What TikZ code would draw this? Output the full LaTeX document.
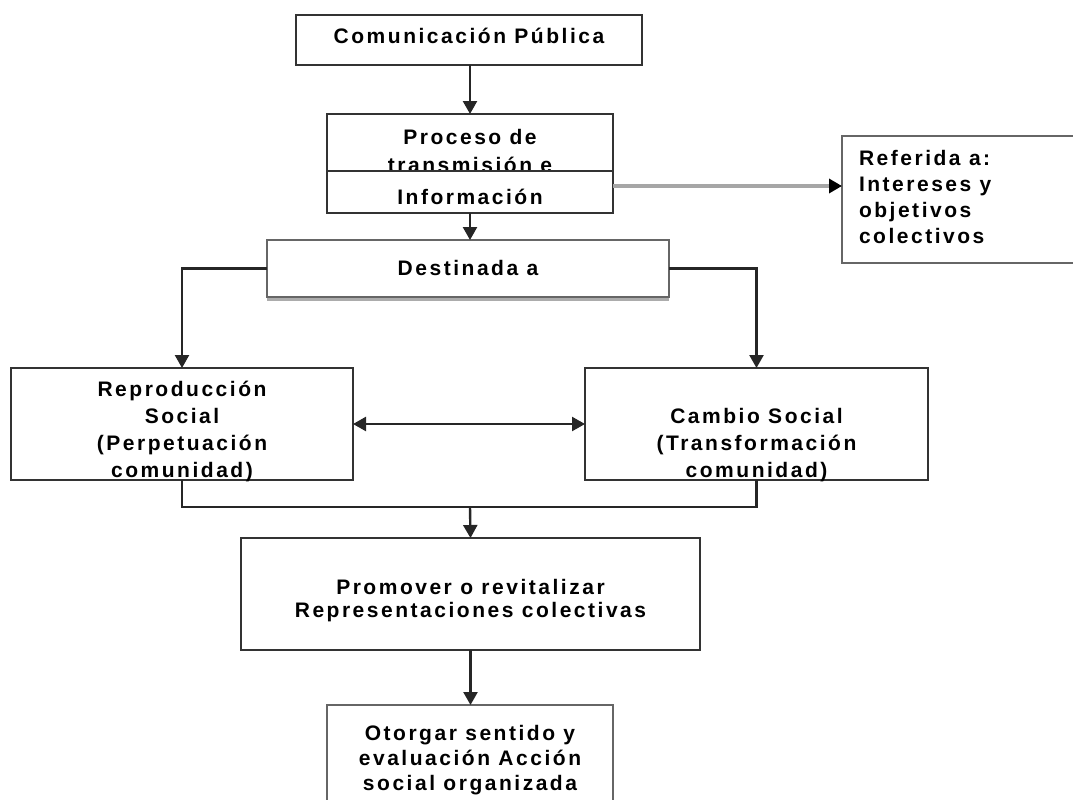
\documentclass[tikz,border=0pt]{standalone}
\usepackage{fontspec}
\usetikzlibrary{arrows.meta}
\newfontfamily\diagfont[LetterSpace=12]{Liberation Sans}
\begin{document}
\begin{tikzpicture}[x=1pt,y=-1pt,
  every node/.style={inner sep=0pt, outer sep=0pt},
  txt/.style={font=\diagfont\bfseries\fontsize{21}{27}\selectfont, text=black, align=center},
  box/.style={draw=black!80, line width=2.2pt, fill=white},
  conn/.style={draw=black!85, line width=2.4pt},
  tip/.style={-{Triangle[width=14pt,length=13pt]}},
  arr/.style={conn, tip},
]
\useasboundingbox (0,0) rectangle (1073,800);
\clip (0,0) rectangle (1073,800);

% boxes and texts
\node[box, minimum width=346pt, minimum height=50pt] (com) at (469,40) {};
\node[txt, anchor=base] (tcom) at (469,44) {Comunicación Pública};

\node[box, minimum width=286pt, minimum height=99pt] (proc) at (470,163.5) {};
\node[txt, anchor=base] (tp) at (470,144) {Proceso de};
\node[txt, anchor=base] (tt) at (470,172) {transmisión e};
\node[box, minimum width=286pt, minimum height=42pt] (info) at (470,192) {};
\node[txt, anchor=base] (tinfo) at (470,204) {Información};

\node[box, draw=black!60, minimum width=248pt, minimum height=127pt] (ref) at (966,199.5) {};
\node[txt, align=left, anchor=base west] (tref) at (859,243) {Referida a:\\[-1pt]Intereses y\\[-1pt]objetivos\\[-1pt]colectivos};

\node[box, draw=black!60, minimum width=402pt, minimum height=57pt] (dest) at (468,268.5) {};
\draw[gray!65, line width=3pt] ([yshift=-2pt]dest.south west) -- ([yshift=-2pt]dest.south east);
\node[txt, anchor=base] (tdest) at (468,275) {Destinada a};

\node[box, minimum width=342pt, minimum height=112pt] (rep) at (182,424) {};
\node[txt, anchor=base] (trep) at (182,477) {Reproducción\\Social\\(Perpetuación\\comunidad)};

\node[box, minimum width=343pt, minimum height=112pt] (cam) at (756.5,424) {};
\node[txt, anchor=base] (tcam) at (756.5,477) {Cambio Social\\(Transformación\\comunidad)};

\node[box, minimum width=459pt, minimum height=112pt] (prom) at (470.5,594) {};
\node[txt, anchor=base] (tprom) at (470.5,617) {Promover o revitalizar\\[-4pt]Representaciones colectivas};

\node[box, draw=black!60, minimum width=286pt, minimum height=125pt] (oto) at (470,767.5) {};
\node[txt, anchor=base] (toto) at (470,790) {Otorgar sentido y\\[-2pt]evaluación Acción\\[-2pt]social organizada};

% connectors
\draw[arr] (proc.north |- com.south) -- (proc.north);
\draw[draw=gray!70, line width=3.5pt, -{Triangle[width=14pt,length=13pt,color=black]}]
  ([yshift=6pt]info.east) -- ([yshift=6pt]info.east -| ref.west);
\draw[arr] (proc.south) -- (proc.south |- dest.north);
\draw[arr] (dest.west) -| (rep.north);
\draw[arr] (dest.east) -| (cam.north);
\draw[conn, {Triangle[width=14pt,length=13pt]}-{Triangle[width=14pt,length=13pt]}] (rep.east) -- (cam.west);
\coordinate (join) at (470,507);
\draw[conn] (rep.south) |- (join) -| (cam.south);
\draw[arr] (join) -- (prom.north);
\draw[arr] (prom.south) -- (prom.south |- oto.north);
\end{tikzpicture}
\end{document}
